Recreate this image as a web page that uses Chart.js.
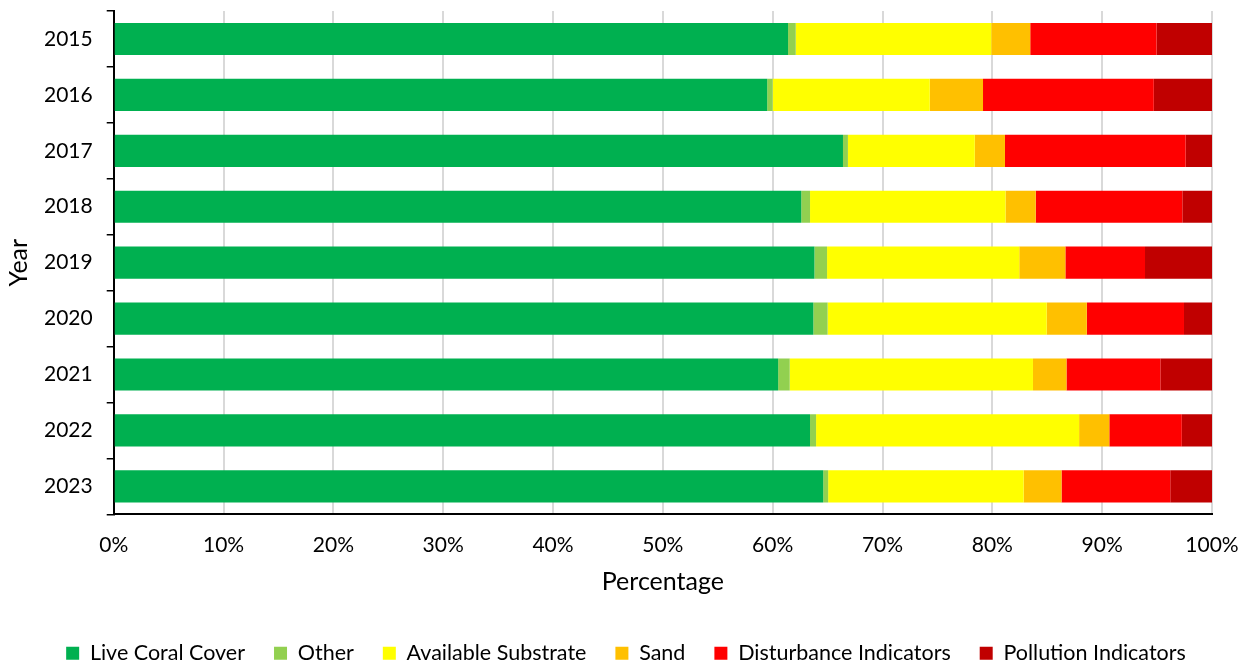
<!DOCTYPE html>
<html>
<head>
<meta charset="utf-8">
<script src="https://cdn.jsdelivr.net/npm/chart.js@4/dist/chart.umd.min.js"></script>
<style>
  html, body { margin: 0; padding: 0; background: #fff; }
  #wrap { width: 1248px; height: 666px; }
</style>
</head>
<body>
<div id="wrap"><canvas id="coverChart"></canvas></div>
<script>
var years = ['2015', '2016', '2017', '2018', '2019', '2020', '2021', '2022', '2023'];

// percent of transect per category, per year
var liveCoral    = [61.4, 59.5, 66.4, 62.6, 63.8, 63.7, 60.5, 63.4, 64.6];
var other        = [0.7, 0.5, 0.45, 0.8, 1.15, 1.3, 1.05, 0.55, 0.45];
var availSubstr  = [17.8, 14.3, 11.55, 17.8, 17.5, 19.95, 22.15, 23.95, 17.8];
var sand         = [3.55, 4.85, 2.75, 2.75, 4.2, 3.65, 3.05, 2.75, 3.45];
var disturbance  = [11.5, 15.55, 16.45, 13.35, 7.25, 8.85, 8.55, 6.6, 9.9];
var pollution    = [5.05, 5.3, 2.4, 2.7, 6.1, 2.55, 4.7, 2.75, 3.8];

var seriesNames  = ['Live Coral Cover', 'Other', 'Available Substrate', 'Sand', 'Disturbance Indicators', 'Pollution Indicators'];
var seriesColors = ['#00B050', '#92D050', '#FFFF00', '#FFC000', '#FF0000', '#C00000'];
var seriesData   = [liveCoral, other, availSubstr, sand, disturbance, pollution];

var FONT = 'Lato, "Noto Sans", sans-serif';

var datasets = [];
for (var i = 0; i < seriesNames.length; i++) {
    datasets.push({
        label: seriesNames[i],
        data: seriesData[i],
        backgroundColor: seriesColors[i],
        borderWidth: 0,
        barPercentage: 0.575,
        categoryPercentage: 1.0
    });
}

var ctx = document.getElementById('coverChart').getContext('2d');
var chart = new Chart(ctx, {
    type: 'bar',
    data: {
        labels: years,
        datasets: datasets
    },
    options: {
        indexAxis: 'y',
        responsive: true,
        maintainAspectRatio: false,
        animation: false,
        layout: {
            padding: { top: 11, right: 0, bottom: -8, left: 4 }
        },
        plugins: {
            legend: {
                display: true,
                position: 'bottom',
                labels: {
                    boxWidth: 13,
                    boxHeight: 13,
                    padding: 29,
                    color: '#000',
                    font: { family: FONT, size: 21.5 }
                }
            },
            title: { display: false },
            tooltip: { enabled: false }
        },
        scales: {
            x: {
                stacked: true,
                min: 0,
                max: 100,
                // keep the plot wide: only leave room for half of the "100%" label
                afterFit: function (scale) {
                    scale.paddingLeft = 0;
                    scale.paddingRight = 36;
                },
                ticks: {
                    stepSize: 10,
                    padding: 18,
                    color: '#000',
                    font: { family: FONT, size: 21 },
                    callback: function (v) { return v + '%'; }
                },
                grid: {
                    color: '#d9d9d9',
                    lineWidth: 2,
                    drawTicks: false
                },
                border: { color: '#000', width: 2 },
                title: {
                    display: true,
                    text: 'Percentage',
                    color: '#000',
                    font: { family: FONT, size: 25 },
                    padding: { top: -9, bottom: 17 }
                }
            },
            y: {
                stacked: true,
                afterFit: function (scale) {
                    scale.paddingTop = 0;
                    scale.paddingBottom = 0;
                },
                ticks: {
                    padding: 14,
                    color: '#000',
                    font: { family: FONT, size: 21 }
                },
                grid: {
                    offset: true,
                    drawOnChartArea: false,
                    drawTicks: true,
                    tickLength: 7,
                    color: '#000',
                    lineWidth: 1.5
                },
                border: { color: '#000', width: 2 },
                title: {
                    display: true,
                    text: 'Year',
                    color: '#000',
                    font: { family: FONT, size: 25 },
                    padding: { top: 0, bottom: -4 }
                }
            }
        }
    }
});
</script>
</body>
</html>
